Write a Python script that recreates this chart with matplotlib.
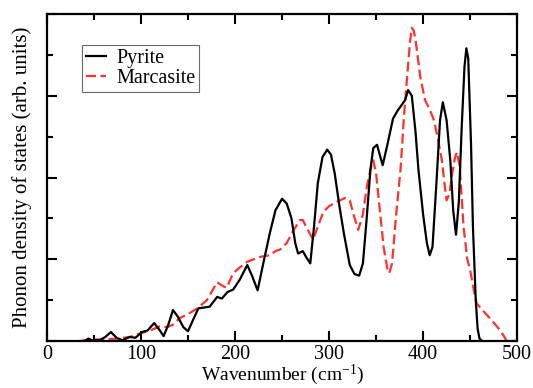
import matplotlib
matplotlib.use("Agg")
import matplotlib.pyplot as plt
from matplotlib.ticker import MultipleLocator, NullFormatter

plt.rcParams['font.family'] = ['Liberation Serif', 'DejaVu Serif']
plt.rcParams['mathtext.fontset'] = 'custom'
plt.rcParams['mathtext.rm'] = 'Liberation Serif'
plt.rcParams['mathtext.default'] = 'regular'

pyrite_x = [35, 40, 44, 48, 56, 62, 68, 74, 80, 88, 94, 101, 107, 114, 120, 124, 129, 134, 139,
            145, 150, 155, 161, 167, 173, 181, 186, 192, 198, 205, 213, 218, 224, 230, 237, 243,
            250, 255, 260, 264, 267, 272, 276, 280, 284, 288, 293, 298, 302, 306, 311, 316, 322,
            327, 332, 336, 340, 344, 347, 351, 357, 362, 368, 373, 378, 381, 384, 388, 392, 395,
            400, 404, 407, 410, 414, 418, 421, 425, 429, 432, 435, 438, 441, 444, 446, 448, 451,
            453, 456, 458, 460, 463]
pyrite_y = [0, 0.0, 0.03, 0.01, 0.01, 0.05, 0.11, 0.04, 0.01, 0.05, 0.04, 0.11, 0.13, 0.22, 0.13,
            0.06, 0.2, 0.38, 0.30, 0.17, 0.12, 0.25, 0.40, 0.41, 0.42, 0.54, 0.52, 0.60, 0.63,
            0.75, 0.93, 0.80, 0.62, 0.95, 1.32, 1.60, 1.74, 1.68, 1.50, 1.20, 1.07, 1.10, 1.02,
            0.95, 1.40, 1.93, 2.25, 2.34, 2.28, 2.05, 1.65, 1.30, 0.93, 0.82, 0.80, 0.95, 1.50,
            2.10, 2.36, 2.40, 2.15, 2.40, 2.72, 2.82, 2.90, 2.95, 3.07, 3.00, 2.55, 2.10, 1.55,
            1.20, 1.05, 1.15, 1.90, 2.70, 2.92, 2.70, 2.20, 1.60, 1.30, 1.70, 2.60, 3.35, 3.58,
            3.46, 2.40, 1.40, 0.50, 0.15, 0.03, 0]

marcasite_x = [35, 45, 60, 75, 88, 101, 110, 120, 128, 134, 141, 150, 160, 170, 176, 181, 186,
               191, 198, 205, 213, 220, 227, 237, 243, 248, 255, 262, 269, 272, 276, 283, 288,
               294, 300, 308, 317, 322, 326, 331, 336, 340, 344, 347, 350, 354, 358, 362, 364,
               367, 371, 376, 380, 383, 386, 388, 390, 392, 397, 402, 407, 411, 415, 420, 423,
               425, 428, 431, 434, 436, 439, 443, 447, 450, 454, 457, 463, 471, 477, 482, 486, 489]
marcasite_y = [0, 0.02, 0.02, 0.03, 0.05, 0.10, 0.13, 0.18, 0.17, 0.20, 0.28, 0.33, 0.40, 0.50,
               0.62, 0.72, 0.68, 0.65, 0.83, 0.90, 0.97, 1.00, 1.03, 1.05, 1.10, 1.12, 1.20,
               1.35, 1.48, 1.48, 1.39, 1.24, 1.40, 1.58, 1.65, 1.70, 1.75, 1.72, 1.55, 1.36,
               1.55, 1.88, 2.10, 2.21, 2.05, 1.60, 1.15, 0.88, 0.83, 0.95, 1.50, 2.10, 2.80,
               3.23, 3.65, 3.83, 3.80, 3.68, 3.23, 2.95, 2.83, 2.72, 2.52, 2.21, 1.90, 1.72,
               1.80, 2.05, 2.25, 2.31, 2.13, 1.40, 1.00, 0.87, 0.62, 0.46, 0.38, 0.28, 0.20,
               0.13, 0.06, 0.0]

x_ticks = [0, 100, 200, 300, 400, 500]

fig = plt.figure(figsize=(5.33, 3.88), dpi=100)
ax = fig.add_axes([0.0882, 0.121, 0.882, 0.843])

ax.plot(pyrite_x, pyrite_y, color='black', lw=1.6, label='Pyrite', zorder=3,
        solid_joinstyle='round')
ax.plot(marcasite_x, marcasite_y, color='#ff3030', lw=1.6, dashes=(4.5, 2), label='Marcasite',
        zorder=2)

ax.set_xlim(0, 500)
ax.set_ylim(0, 4)
ax.set_xticks(x_ticks)
ax.xaxis.set_minor_locator(MultipleLocator(50))
ax.yaxis.set_major_locator(MultipleLocator(1))
ax.yaxis.set_minor_locator(MultipleLocator(0.5))
ax.yaxis.set_major_formatter(NullFormatter())
ax.tick_params(which='both', direction='in', top=True, right=True, width=1.5, labelsize=14.5, pad=3)
ax.tick_params(which='major', length=7)
ax.tick_params(which='minor', length=4)
for s in ax.spines.values():
    s.set_linewidth(1.6)

ax.set_xlabel('Wavenumber (cm$^{-1}$)', fontsize=14, va='center')
ax.xaxis.set_label_coords(0.5, -0.103)
ax.set_ylabel('Phonon density of states (arb. units)', fontsize=15, labelpad=8)

leg = ax.legend(loc='upper left', bbox_to_anchor=(0.074, 0.906), fontsize=14.5, frameon=True,
                fancybox=False, edgecolor='#444444', handlelength=1.0, borderpad=0.2,
                labelspacing=0.05, handletextpad=0.5, borderaxespad=0)
leg.get_frame().set_linewidth(0.8)

fig.savefig('out.png', dpi=100)
